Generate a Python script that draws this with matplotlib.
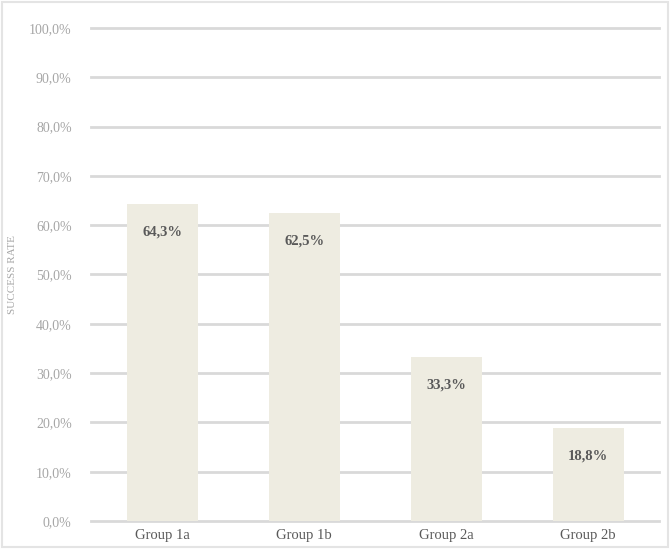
import matplotlib.pyplot as plt
from matplotlib.ticker import FuncFormatter

groups = ["Group 1a", "Group 1b", "Group 2a", "Group 2b"]
rates = [64.3, 62.5, 33.3, 18.8]
yticks = [0, 10, 20, 30, 40, 50, 60, 70, 80, 90, 100]

plt.rcParams['font.family'] = ['Liberation Serif', 'DejaVu Serif']

fig = plt.figure(figsize=(6.7, 5.49), dpi=100)
fig.patches.append(plt.Rectangle((0.003, 0.003), 0.994, 0.994, transform=fig.transFigure,
                                 fill=False, edgecolor="#e4e4e4", linewidth=1.5))
ax = fig.add_axes([0.136, 0.051, 0.848, 0.898])

x = range(len(groups))
bars = ax.bar(x, rates, width=0.5, color="#eeece1", zorder=2)

for xi, v in zip(x, rates):
    ax.annotate(f"{v:.1f}%".replace(".", ","), (xi, v), xytext=(0, -20),
                textcoords="offset points", ha="center", va="center",
                fontsize=10.5, fontweight="bold", color="#595959", zorder=3)

ax.set_xlim(-0.5, len(groups) - 0.5)
ax.set_ylim(0, 100)
ax.set_yticks(yticks)
ax.yaxis.set_major_formatter(FuncFormatter(lambda v, p: f"{v:.1f}%".replace(".", ",")))
ax.set_xticks(list(x))
ax.set_xticklabels(groups)
ax.grid(axis="y", color="#d9d9d9", linewidth=2, zorder=1)
for gl in ax.get_ygridlines():
    gl.set_clip_on(False)
ax.set_axisbelow(True)
for s in ax.spines.values():
    s.set_visible(False)
ax.tick_params(axis="y", length=0, pad=14, labelsize=10, labelcolor="#a6a6a6")
ax.tick_params(axis="x", length=0, pad=6, labelsize=10.5, labelcolor="#595959")
ax.set_ylabel("SUCCESS RATE", fontsize=8, color="#a6a6a6")
ax.yaxis.set_label_coords(-0.13, 0.5)

fig.savefig("out.png", dpi=100)
